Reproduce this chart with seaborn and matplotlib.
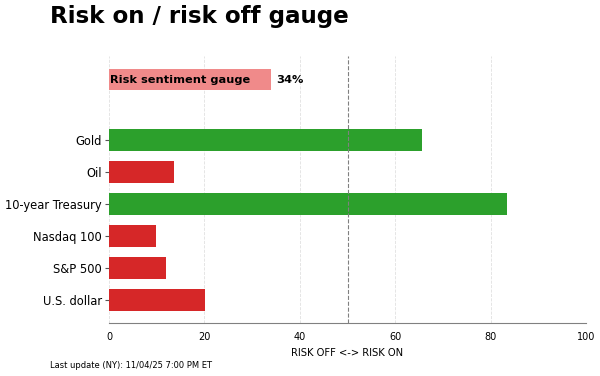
import matplotlib
matplotlib.use("Agg")
import matplotlib.pyplot as plt
import seaborn as sns
import pandas as pd

assets = ["Gold", "Oil", "10-year Treasury", "Nasdaq 100", "S&P 500", "U.S. dollar"]
scores = [65.6, 13.7, 83.4, 9.8, 12.0, 20.2]
gauge_label = "Risk sentiment gauge"
gauge_value = 34
title = "Risk on / risk off gauge"
xlabel = "RISK OFF <-> RISK ON"
footer = "Last update (NY): 11/04/25 7:00 PM ET"

sns.set_style("white")
plt.rcParams['font.family'] = ['DejaVu Sans']
plt.rcParams['text.color'] = 'black'
plt.rcParams['axes.labelcolor'] = 'black'
plt.rcParams['xtick.color'] = 'black'
plt.rcParams['ytick.color'] = 'black'

df = pd.DataFrame({"asset": assets, "score": scores})
df["color"] = ["#2ca02c" if s >= 50 else "#d62728" for s in scores]

fig = plt.figure(figsize=(6.0, 3.76), dpi=100)
ax = fig.add_axes([109/600, 1 - 323/376, (586-109)/600, (323-56)/376])

palette = dict(zip(df["asset"], df["color"]))
sns.barplot(data=df, x="score", y="asset", hue="asset", palette=palette, order=assets,
            width=0.66, ax=ax, legend=False, saturation=1, edgecolor="none")

# gauge bar
gy = -1.89
ax.barh([gy], [gauge_value], height=0.66, color="#f08a8a", edgecolor="none")
ax.text(0.3, gy, gauge_label, va="center", ha="left", fontsize=8.2, fontweight="bold", color="black")
ax.text(gauge_value + 1, gy, f"{gauge_value}%", va="center", ha="left", fontsize=8.2,
        fontweight="bold", color="black")

ax.axvline(50, color="gray", linestyle="--", linewidth=0.8)
ax.set_xlim(0, 100)
ax.set_ylim(5.72, -2.625)
ax.set_xticks([0, 20, 40, 60, 80, 100])
ax.xaxis.grid(True, linestyle="--", color="#e0e0e0", linewidth=0.6)
ax.set_axisbelow(True)
for s in ["top", "right", "left"]:
    ax.spines[s].set_visible(False)
ax.spines["bottom"].set_color("#808080")
ax.tick_params(axis="x", colors="#808080", labelcolor="black", labelsize=7, length=3)
ax.tick_params(axis="y", labelsize=8.3, length=3, pad=2, left=True, color="#555555",
               labelcolor="black")
ax.set_xlabel(xlabel, fontsize=7.2, color="black")
ax.set_ylabel("")

fig.text(50/600, 1 - 16/376, title, fontsize=16.6, fontweight="bold", ha="left", va="center",
         color="black")
fig.text(50/600, 1 - 366/376, footer, fontsize=6, ha="left", va="center", color="black")

fig.savefig("out.png", dpi=100)
